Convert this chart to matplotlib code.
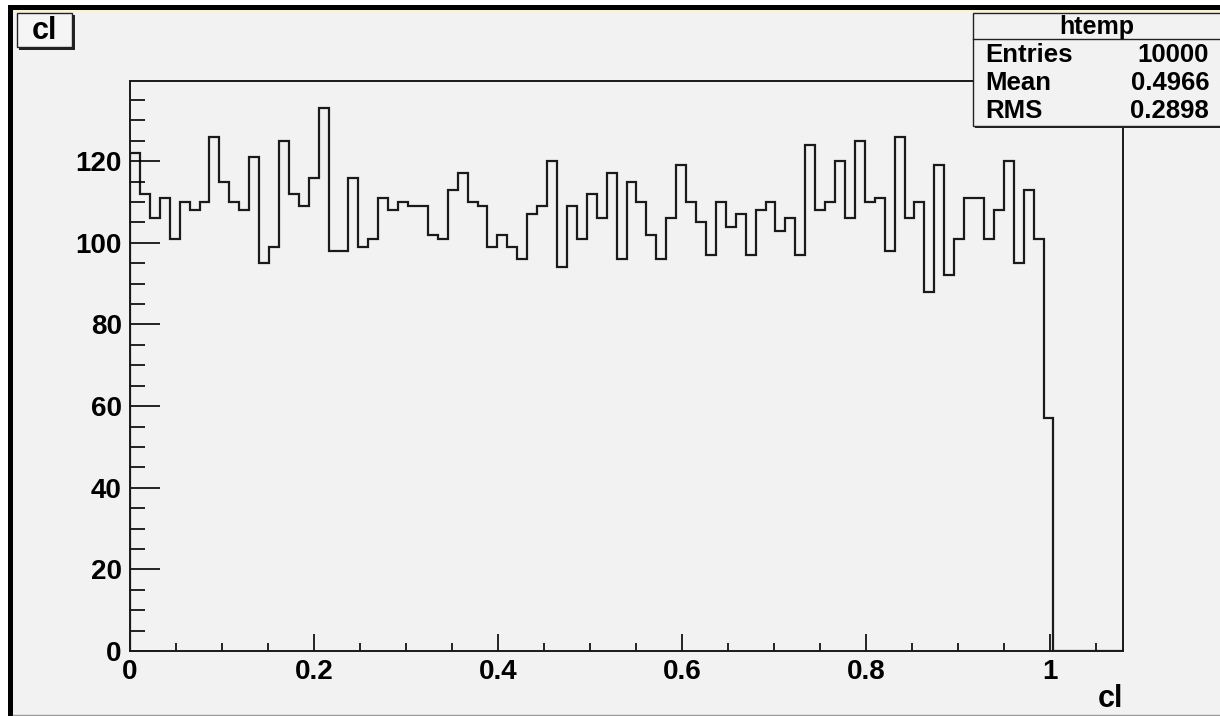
import numpy as np
import matplotlib
matplotlib.use("Agg")
import matplotlib.pyplot as plt
from matplotlib.patches import Rectangle

# bin contents (100 bins, 0 .. 1.079)
counts = [122, 112, 106, 111, 101, 110, 108, 110, 126, 115,
          110, 108, 121, 95, 99, 125, 112, 109, 116, 133,
          98, 98, 116, 99, 101, 111, 108, 110, 109, 109,
          102, 101, 113, 117, 110, 109, 99, 102, 99, 96,
          107, 109, 120, 94, 109, 101, 112, 106, 117, 96,
          115, 110, 102, 96, 106, 119, 110, 105, 97, 110,
          104, 107, 97, 108, 110, 103, 106, 97, 124, 108,
          110, 120, 106, 125, 110, 111, 98, 126, 106, 110,
          88, 119, 92, 101, 111, 111, 101, 108, 120, 95,
          113, 101, 57, 0, 0, 0, 0, 0, 0, 0]
x_min, x_max = 0.0, 1.079
x_ticks = [0, 0.2, 0.4, 0.6, 0.8, 1.0]
x_labels = ["0", "0.2", "0.4", "0.6", "0.8", "1"]
y_ticks = [0, 20, 40, 60, 80, 100, 120]
y_labels = ["0", "20", "40", "60", "80", "100", "120"]
stat_names = ["Entries", "Mean", "RMS"]
stat_values = ["10000", "0.4966", "0.2898"]
hist_name = "htemp"
var_name = "cl"

bg = "#f2f2f2"
W, H = 1220, 716
font = dict(family="Liberation Sans", weight="bold")

fig = plt.figure(figsize=(W / 100, H / 100), dpi=100, facecolor="white")

# frame decorations in pixel coordinates
deco = fig.add_axes([0, 0, 1, 1], zorder=0)
deco.set_xlim(0, W)
deco.set_ylim(H, 0)
deco.axis("off")
deco.add_patch(Rectangle((8, 5), W - 8, H - 5, facecolor=bg, edgecolor="none"))
deco.add_patch(Rectangle((8, 5), W - 8, 5, facecolor="black", edgecolor="none"))
deco.add_patch(Rectangle((8, 5), 5, H - 5, facecolor="black", edgecolor="none"))
deco.add_patch(Rectangle((13, 10), W - 13, 3, facecolor="#f7f3d6", edgecolor="none"))
deco.plot([13, W], [715, 715], color="#9a9a9a", lw=1)

# histogram
ax = fig.add_axes([130 / W, 1 - 651 / H, (1123 - 130) / W, (651 - 81) / H], zorder=1)
ax.set_facecolor(bg)
edges = np.linspace(x_min, x_max, len(counts) + 1)
ax.stairs(counts, edges, color="#1a1a1a", lw=1.6)
ax.set_xlim(x_min, x_max)
ax.set_ylim(0, max(counts) * 1.05)
for s in ax.spines.values():
    s.set_linewidth(1.4)
    s.set_color("#1a1a1a")

ax.set_xticks(x_ticks)
ax.set_xticklabels(x_labels, **font, fontsize=20)
ax.set_xticks(np.arange(0.05, x_max, 0.05), minor=True)
ax.set_yticks(y_ticks)
ax.set_yticklabels(y_labels, **font, fontsize=20)
ax.set_yticks(np.arange(5, max(counts) * 1.05, 5), minor=True)
ax.tick_params(axis="x", which="major", direction="in", length=12, width=1.2, pad=6)
ax.tick_params(axis="x", which="minor", direction="in", length=6, width=1.2)
ax.tick_params(axis="y", which="major", direction="in", length=21.5, width=1.2, pad=6)
ax.tick_params(axis="y", which="minor", direction="in", length=11, width=1.2)

# overlay: title box, stats box, axis title
top = fig.add_axes([0, 0, 1, 1], zorder=2)
top.set_xlim(0, W)
top.set_ylim(H, 0)
top.axis("off")

top.add_patch(Rectangle((19, 15), 56, 35, facecolor="#222222", edgecolor="none"))
top.add_patch(Rectangle((17, 13), 55, 34, facecolor="#f5f5f5", edgecolor="#222222", lw=1))
top.text(44.5, 31, var_name, ha="center", va="center", fontsize=22, **font)

top.add_patch(Rectangle((975, 15), 250, 113, facecolor="#222222", edgecolor="none"))
top.add_patch(Rectangle((973, 13), 250, 113, facecolor=bg, edgecolor="#222222", lw=1))
top.plot([973, W], [39, 39], color="#222222", lw=1)
top.text(1097, 27, hist_name, ha="center", va="center", fontsize=18, **font)
for i, (n, v) in enumerate(zip(stat_names, stat_values)):
    y = 55 + i * 28
    top.text(985, y, n, ha="left", va="center", fontsize=18.5, **font)
    top.text(1209, y, v, ha="right", va="center", fontsize=18.5, **font)

top.text(1123, 699, var_name, ha="right", va="center", fontsize=22, **font)

fig.savefig("out.png", dpi=100, facecolor="white")
